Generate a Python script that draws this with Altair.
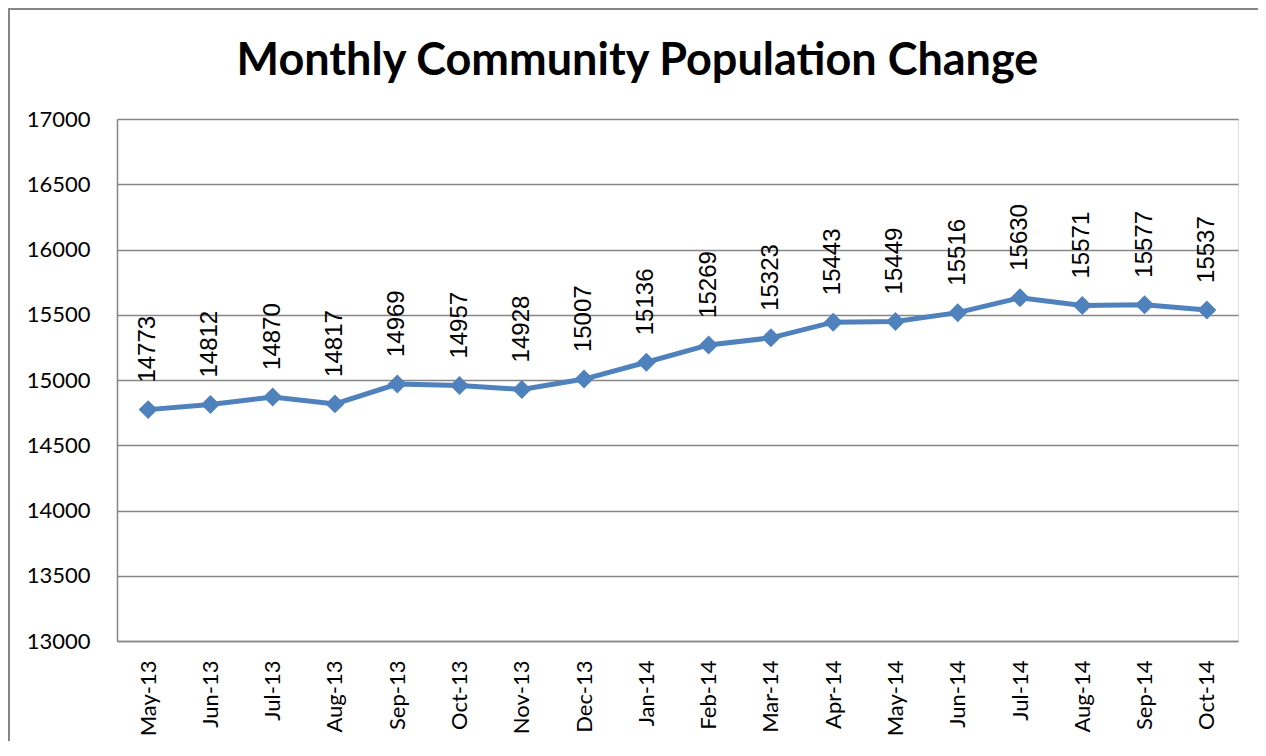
import altair as alt
import pandas as pd

months = ["May-13", "Jun-13", "Jul-13", "Aug-13", "Sep-13", "Oct-13", "Nov-13", "Dec-13",
          "Jan-14", "Feb-14", "Mar-14", "Apr-14", "May-14", "Jun-14", "Jul-14", "Aug-14",
          "Sep-14", "Oct-14"]
population = [14773, 14812, 14870, 14817, 14969, 14957, 14928, 15007,
              15136, 15269, 15323, 15443, 15449, 15516, 15630, 15571,
              15577, 15537]
y_ticks = [13000, 13500, 14000, 14500, 15000, 15500, 16000, 16500, 17000]

df = pd.DataFrame({"month": months, "population": population})

BLUE = "#4F81BD"
GRID = "#868686"

x_enc = alt.X("month:O", sort=months, title=None,
              axis=alt.Axis(labelAngle=-90, labelFont="Lato", labelFontSize=22,
                            labelColor="black", labelPadding=19, ticks=False,
                            domainColor=GRID, domainWidth=1.5, grid=False))
y_enc = alt.Y("population:Q", title=None,
              scale=alt.Scale(domain=[13000, 17000], nice=False, zero=False),
              axis=alt.Axis(values=y_ticks, format="d", labelFont="Lato", labelFontSize=22,
                            labelColor="black", labelPadding=27, ticks=False,
                            domainColor=GRID, domainWidth=1.5,
                            gridColor=GRID, gridWidth=1.5, gridOpacity=1))

base = alt.Chart(df).encode(x=x_enc, y=y_enc)

line = base.mark_line(color=BLUE, strokeWidth=5)
points = base.mark_point(shape="diamond", filled=True, color=BLUE, size=360, opacity=1)
labels = base.mark_text(angle=270, align="left", baseline="middle", dx=27,
                        font="Liberation Sans", fontSize=24, color="black").encode(
    text="population:Q")

one = pd.DataFrame({"a": [0]})
border_top = alt.Chart(one).mark_rect(color=GRID, strokeWidth=0).encode(
    x=alt.value(-109), x2=alt.value(1141), y=alt.value(-111), y2=alt.value(-109))
border_left = alt.Chart(one).mark_rect(color=GRID, strokeWidth=0).encode(
    x=alt.value(-109), x2=alt.value(-107), y=alt.value(-111), y2=alt.value(622))

chart = alt.layer(border_top, border_left, line, points, labels).properties(
    width=1121, height=522,
    title=alt.TitleParams("Monthly Community Population Change", font="Lato",
                          fontSize=45, fontWeight="bold", color="black",
                          anchor="middle", frame="group", dx=-40, dy=116,
                          baseline="alphabetic"),
    padding={"left": 109, "top": 111, "right": 20, "bottom": 100},
    autosize=alt.AutoSizeParams(type="none"),
).configure_view(stroke=None).configure(background="white")

chart.save("out.html", embed_options={"renderer": "svg", "actions": False})
